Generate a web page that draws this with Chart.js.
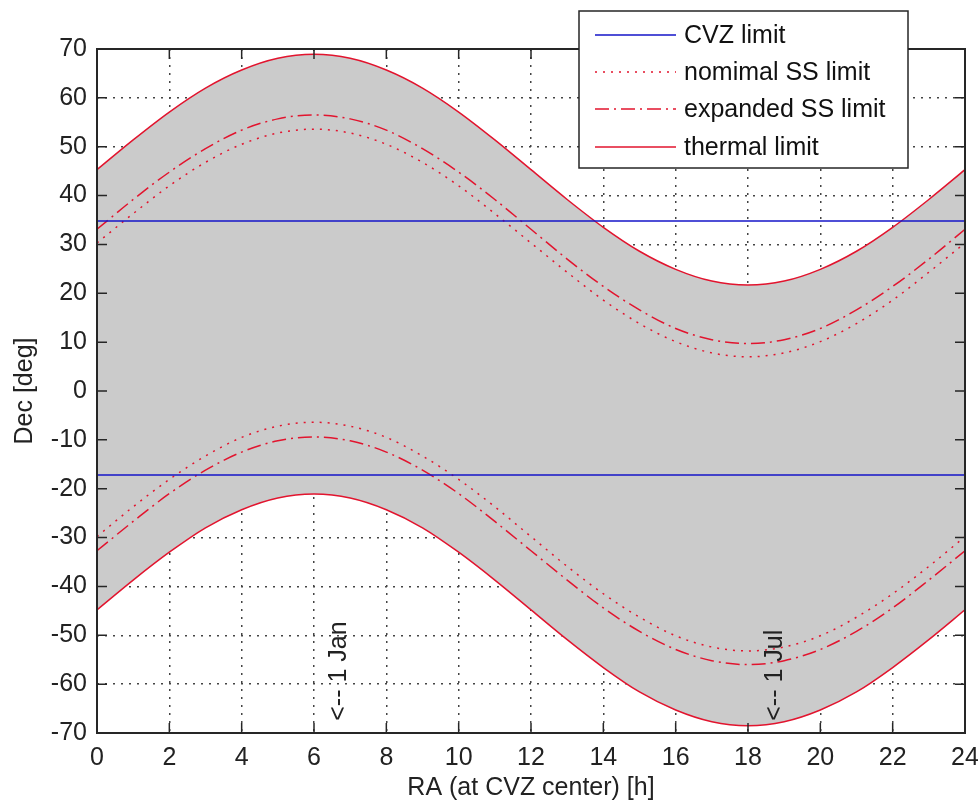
<!DOCTYPE html>
<html>
<head>
<meta charset="utf-8">
<script src="https://cdn.jsdelivr.net/npm/chart.js@4.4.1/dist/chart.umd.min.js"></script>
<style>
  html, body { margin: 0; padding: 0; background: #fff; }
  #wrap { width: 978px; height: 806px; }
</style>
</head>
<body>
<div id="wrap"><canvas id="chart" width="978" height="806"></canvas></div>
<script>
// values, one point per hour of RA
const raHours = [0, 1, 2, 3, 4, 5, 6, 7, 8, 9, 10, 11, 12, 13, 14, 15, 16, 17, 18, 19, 20, 21, 22, 23, 24];
const thermalUpper = [45.3, 51.4, 57.1, 62.0, 65.7, 68.1, 68.9, 68.1, 65.7, 62.0, 57.1, 51.4, 45.3, 39.2, 33.5, 28.6, 24.9, 22.5, 21.7, 22.5, 24.9, 28.6, 33.5, 39.2, 45.3];
const thermalLower = [-44.8, -38.7, -33.0, -28.0, -24.3, -21.9, -21.1, -21.9, -24.3, -28.0, -33.0, -38.7, -44.8, -50.9, -56.6, -61.6, -65.3, -67.7, -68.5, -67.7, -65.3, -61.6, -56.6, -50.9, -44.8];
const expandedUpper = [33.1, 39.2, 44.8, 49.6, 53.4, 55.7, 56.5, 55.7, 53.4, 49.6, 44.8, 39.2, 33.1, 27.0, 21.4, 16.6, 12.8, 10.5, 9.7, 10.5, 12.8, 16.6, 21.4, 27.0, 33.1];
const expandedLower = [-32.7, -26.7, -21.0, -16.2, -12.5, -10.2, -9.4, -10.2, -12.5, -16.2, -21.0, -26.7, -32.7, -38.7, -44.4, -49.2, -52.9, -55.2, -56.0, -55.2, -52.9, -49.2, -44.4, -38.7, -32.7];
const nominalUpper = [30.3, 36.3, 42.0, 46.8, 50.5, 52.8, 53.6, 52.8, 50.5, 46.8, 42.0, 36.3, 30.3, 24.3, 18.6, 13.8, 10.1, 7.8, 7.0, 7.8, 10.1, 13.8, 18.6, 24.3, 30.3];
const nominalLower = [-29.8, -23.7, -18.1, -13.3, -9.5, -7.2, -6.4, -7.2, -9.5, -13.3, -18.1, -23.7, -29.8, -35.9, -41.5, -46.3, -50.1, -52.4, -53.2, -52.4, -50.1, -46.3, -41.5, -35.9, -29.8];
const cvzRange = [0, 24];
const cvzLimits = [34.8, -17.2];

const xTickValues = [0, 2, 4, 6, 8, 10, 12, 14, 16, 18, 20, 22, 24];
const yTickValues = [-70, -60, -50, -40, -30, -20, -10, 0, 10, 20, 30, 40, 50, 60, 70];

const legendLabels = ['CVZ limit', 'nomimal SS limit', 'expanded SS limit', 'thermal limit'];
const noteLabels = ['<-- 1 Jan', '<-- 1 Jul'];
const noteRA = [6.7, 18.75];
const noteDec = [-67.5, -67.5];

const RED = '#e2142e';
const BLUE = '#1414c8';
const FONT = '"Liberation Sans", Arial, sans-serif';
const DOTTED = [2, 6];
const DASHDOT = [14, 5, 2, 5];

const pts = ys => raHours.map((h, i) => ({ x: h, y: ys[i] }));
const flat = v => cvzRange.map(h => ({ x: h, y: v }));

function curve(data, dash, extra) {
  return Object.assign({
    data,
    borderColor: RED,
    borderWidth: 1.5,
    borderDash: dash,
    pointRadius: 0,
    cubicInterpolationMode: 'monotone',
    fill: false
  }, extra || {});
}

const datasets = [
  curve(flat(cvzLimits[0]), [], { borderColor: BLUE, cubicInterpolationMode: 'default', tension: 0 }),
  curve(flat(cvzLimits[1]), [], { borderColor: BLUE, cubicInterpolationMode: 'default', tension: 0 }),
  curve(pts(nominalUpper), DOTTED),
  curve(pts(nominalLower), DOTTED),
  curve(pts(expandedUpper), DASHDOT),
  curve(pts(expandedLower), DASHDOT),
  curve(pts(thermalUpper), [], { fill: '+1', backgroundColor: '#cbcbcb' }),
  curve(pts(thermalLower), [])
];

const legendStyles = [
  { color: BLUE, dash: [] },
  { color: RED, dash: DOTTED },
  { color: RED, dash: DASHDOT },
  { color: RED, dash: [] }
];

const frame = {
  id: 'frame',
  afterDatasetsDraw(chart) {
    const { ctx, chartArea: a, scales: { x, y } } = chart;
    ctx.save();
    ctx.strokeStyle = '#262626';
    ctx.lineWidth = 1.5;
    ctx.beginPath();
    xTickValues.forEach(v => {
      const px = x.getPixelForValue(v);
      ctx.moveTo(px, a.bottom); ctx.lineTo(px, a.bottom - 10);
      ctx.moveTo(px, a.top); ctx.lineTo(px, a.top + 10);
    });
    yTickValues.forEach(v => {
      const py = y.getPixelForValue(v);
      ctx.moveTo(a.left, py); ctx.lineTo(a.left + 10, py);
      ctx.moveTo(a.right, py); ctx.lineTo(a.right - 10, py);
    });
    ctx.stroke();
    ctx.lineWidth = 2;
    ctx.strokeRect(a.left, a.top, a.right - a.left, a.bottom - a.top);

    // rotated date notes
    ctx.fillStyle = '#222';
    ctx.font = '25px ' + FONT;
    ctx.textAlign = 'left';
    ctx.textBaseline = 'middle';
    noteLabels.forEach((t, i) => {
      ctx.save();
      ctx.translate(x.getPixelForValue(noteRA[i]), y.getPixelForValue(noteDec[i]));
      ctx.rotate(-Math.PI / 2);
      ctx.fillText(t, 0, 0);
      ctx.restore();
    });
    ctx.restore();
  },
  afterDraw(chart) {
    const ctx = chart.ctx;
    ctx.save();
    ctx.fillStyle = '#fff';
    ctx.fillRect(579, 11, 329, 157);
    ctx.strokeStyle = '#262626';
    ctx.lineWidth = 1.5;
    ctx.strokeRect(579, 11, 329, 157);
    const rows = [35, 72, 109, 147];
    ctx.font = '25px ' + FONT;
    ctx.textAlign = 'left';
    ctx.textBaseline = 'middle';
    legendLabels.forEach((t, i) => {
      ctx.strokeStyle = legendStyles[i].color;
      ctx.setLineDash(legendStyles[i].dash);
      ctx.lineWidth = 1.5;
      ctx.beginPath();
      ctx.moveTo(595, rows[i]);
      ctx.lineTo(676, rows[i]);
      ctx.stroke();
      ctx.fillStyle = '#111';
      ctx.fillText(t, 684, rows[i] + 1);
    });
    ctx.restore();
  }
};

new Chart(document.getElementById('chart'), {
  type: 'line',
  data: { datasets },
  options: {
    responsive: false,
    animation: false,
    layout: { padding: { top: 49, right: 13, bottom: 0, left: 0 } },
    plugins: {
      legend: { display: false },
      tooltip: { enabled: false },
      filler: { drawTime: 'beforeDatasetsDraw' }
    },
    scales: {
      x: {
        type: 'linear',
        min: 0,
        max: 24,
        afterBuildTicks: s => { s.ticks = xTickValues.map(v => ({ value: v })); },
        afterFit: s => { s.height = 73; s.paddingLeft = 0; s.paddingRight = 0; },
        ticks: { color: '#222', font: { family: FONT, size: 25 }, padding: 10, maxRotation: 0 },
        grid: { color: '#444', lineWidth: 1.5, drawTicks: false },
        border: { display: false, dash: DOTTED },
        title: { display: true, text: 'RA (at CVZ center) [h]', color: '#222', font: { family: FONT, size: 25 }, padding: { top: 0, bottom: 3 } }
      },
      y: {
        type: 'linear',
        min: -70,
        max: 70,
        afterBuildTicks: s => { s.ticks = yTickValues.map(v => ({ value: v })); },
        afterFit: s => { s.width = 97; s.paddingTop = 0; s.paddingBottom = 0; },
        ticks: { color: '#222', font: { family: FONT, size: 25 }, padding: 10 },
        grid: { color: '#444', lineWidth: 1.5, drawTicks: false },
        border: { display: false, dash: DOTTED },
        title: { display: true, text: 'Dec [deg]', color: '#222', font: { family: FONT, size: 25 }, padding: { top: 10, bottom: 0 } }
      }
    }
  },
  plugins: [frame]
});
</script>
</body>
</html>
